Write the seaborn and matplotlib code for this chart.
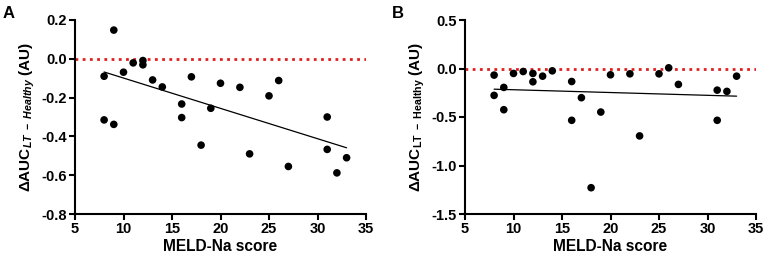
import matplotlib
matplotlib.use("Agg")
import matplotlib.pyplot as plt
import seaborn as sns
import numpy as np
import pandas as pd

# ---- data ----
meld = [8, 9, 8, 9, 10, 11, 12, 12, 13, 14, 16, 16, 17, 18, 19, 20, 22, 23, 25, 26, 27, 31, 31, 32, 33]
auc_a = [-0.09, 0.148, -0.315, -0.338, -0.069, -0.021, -0.009, -0.031, -0.109, -0.145,
         -0.233, -0.303, -0.093, -0.445, -0.255, -0.126, -0.147, -0.49, -0.191, -0.112,
         -0.555, -0.30, -0.467, -0.588, -0.51]
auc_b = [-0.068, -0.195, -0.277, -0.425, -0.051, -0.031, -0.051, -0.137, -0.079, -0.024,
         -0.134, -0.534, -0.301, -1.229, -0.449, -0.065, -0.055, -0.695, -0.055, 0.007,
         -0.164, -0.223, -0.534, -0.236, -0.079]
x_ticks = [5, 10, 15, 20, 25, 30, 35]
y_ticks_a = [0.2, 0.0, -0.2, -0.4, -0.6, -0.8]
y_ticks_b = [0.5, 0.0, -0.5, -1.0, -1.5]
x_label = "MELD-Na score"

sns.set_style("ticks")
plt.rcParams['font.family'] = ['Liberation Sans', 'DejaVu Sans']
plt.rcParams['font.weight'] = 'bold'
plt.rcParams['mathtext.fontset'] = 'custom'
plt.rcParams['mathtext.rm'] = 'Liberation Sans:bold'
plt.rcParams['mathtext.bf'] = 'Liberation Sans:bold'
plt.rcParams['mathtext.it'] = 'Liberation Sans:italic:bold'
for k in ['text.color', 'axes.labelcolor', 'xtick.color', 'ytick.color', 'axes.edgecolor']:
    plt.rcParams[k] = 'black'

fig = plt.figure(figsize=(7.67, 2.66), dpi=100)
W, H = 767, 266
axA = fig.add_axes([75 / W, 1 - 214 / H, 291 / W, 194 / H])
axB = fig.add_axes([465 / W, 1 - 214 / H, 291 / W, 194 / H])

df_a = pd.DataFrame({"meld": meld, "auc": auc_a})
df_b = pd.DataFrame({"meld": meld, "auc": auc_b})

red = "#e0201e"
for ax, df, yt, ylab in [
    (axA, df_a, y_ticks_a, "ΔAUC$_{\\mathit{LT\\ -\\ Healthy}}$ (AU)"),
    (axB, df_b, y_ticks_b, "ΔAUC$_{\\mathrm{LT\\ -\\ Healthy}}$ (AU)"),
]:
    ax.axhline(0, color=red, linestyle=(0, (1, 1.6)), linewidth=2.0, zorder=1)
    sns.regplot(data=df, x="meld", y="auc", ax=ax, ci=None,
                scatter_kws=dict(s=30, color="black", edgecolor="none", zorder=3, alpha=1),
                line_kws=dict(color="black", linewidth=0.9, zorder=2))
    ax.set_xlim(5, 35)
    ax.set_ylim(min(yt), max(yt))
    ax.set_xticks(x_ticks)
    ax.set_yticks(yt)
    ax.set_yticklabels([f"{v:.1f}" for v in yt])
    ax.set_xlabel(x_label, fontsize=11.2, fontweight="bold", labelpad=2)
    ax.set_ylabel(ylab, fontsize=11, fontweight="bold", labelpad=3)
    sns.despine(ax=ax)
    for s in ["left", "bottom"]:
        ax.spines[s].set_linewidth(1.5)
    ax.tick_params(axis="both", width=1.5, length=4, labelsize=10.5, pad=2)
    for lbl in ax.get_xticklabels() + ax.get_yticklabels():
        lbl.set_fontweight("bold")

fig.text(3 / W, 1 - 6 / H, "A", fontsize=12, fontweight="bold", va="top", ha="left")
fig.text(392 / W, 1 - 6 / H, "B", fontsize=12, fontweight="bold", va="top", ha="left")

fig.savefig("out.png", dpi=100)
